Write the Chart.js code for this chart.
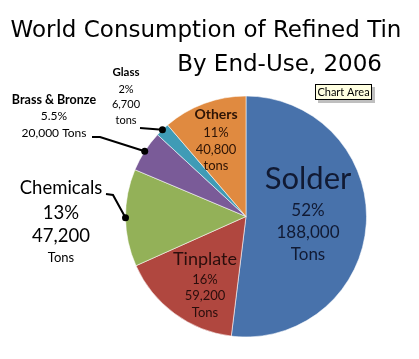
<!DOCTYPE html>
<html><head><meta charset="utf-8">
<script src="https://cdn.jsdelivr.net/npm/chart.js@4"></script>
<style>html,body{margin:0;padding:0;background:#fff;}#wrap{width:419px;height:359px;position:relative;}</style>
</head><body><div id="wrap"><canvas id="c" width="419" height="359"></canvas></div>
<script>
const categories = ["Solder", "Tinplate", "Chemicals", "Brass & Bronze", "Glass", "Others"];
const tons = [188000, 59200, 47200, 20000, 6700, 40800];
const pctLabels = ["52%", "16%", "13%", "5.5%", "2%", "11%"];
const tonLabels = ["188,000", "59,200", "47,200", "20,000 Tons", "6,700", "40,800"];
const unitLabels = ["Tons", "Tons", "Tons", "", "tons", "tons"];
const colors = ["#4872ab", "#b0473f", "#93b158", "#7a5b98", "#3f9bb6", "#e08a40"];
const titleLines = ["World Consumption of Refined Tin", "By End-Use, 2006"];

const F = "Lato, 'Open Sans', sans-serif";

const labelPlugin = {
  id: 'labels',
  afterDraw(chart) {
    const ctx = chart.ctx;
    const arcs = chart.getDatasetMeta(0).data;
    const cx = arcs[0].x, cy = arcs[0].y, R = arcs[0].outerRadius;
    ctx.save();
    // Title
    ctx.fillStyle = '#000';
    ctx.textBaseline = 'middle';
    ctx.textAlign = 'center';
    ctx.font = "23px 'DejaVu Sans'";
    ctx.fillText(titleLines[0], 206, 31);
    ctx.textAlign = 'right';
    ctx.fillText(titleLines[1], 382, 65);

    function txt(s, x, y, size, bold, color) {
      ctx.font = (bold ? 'bold ' : '') + size + 'px ' + F;
      ctx.fillStyle = color || '#000';
      ctx.textAlign = 'center';
      ctx.fillText(s, x, y);
    }
    function dotAt(i) {
      const a = arcs[i];
      const m = (a.startAngle + a.endAngle) / 2;
      return [cx + Math.cos(m) * R, cy + Math.sin(m) * R];
    }
    // Solder
    const sc = '#111a33';
    txt(categories[0], cx + 62, cy - 38, 31, false, sc);
    txt(pctLabels[0], cx + 62, cy - 6, 17, false, sc);
    txt(tonLabels[0], cx + 62, cy + 16, 17, false, sc);
    txt(unitLabels[0], cx + 62, cy + 38, 17, false, sc);
    // Tinplate
    const tc = '#2a0e0c';
    txt(categories[1], cx - 41, cy + 43, 18, false, tc);
    txt(pctLabels[1], cx - 41, cy + 63, 13, false, tc);
    txt(tonLabels[1], cx - 41, cy + 79, 13, false, tc);
    txt(unitLabels[1], cx - 41, cy + 96, 13, false, tc);
    // Others
    const oc = '#2e1405';
    txt(categories[5], cx - 30, cy - 102, 14, true, oc);
    txt(pctLabels[5], cx - 30, cy - 84, 13, false, oc);
    txt(tonLabels[5], cx - 30, cy - 67, 13, false, oc);
    txt(unitLabels[5], cx - 30, cy - 51, 13, false, oc);
    // Chemicals
    txt(categories[2], 61, 188, 18.5, false);
    txt(pctLabels[2], 61, 213, 18.5, false);
    txt(tonLabels[2], 61, 236, 18.5, false);
    txt(unitLabels[2], 61, 258, 13, false);
    // Brass & Bronze
    txt(categories[3], 54, 100, 12.5, true);
    txt(pctLabels[3], 54, 116, 12, false);
    txt(tonLabels[3], 54, 133, 12, false);
    // Glass
    txt(categories[4], 126, 72, 11.5, true);
    txt(pctLabels[4], 126, 89, 11, false);
    txt(tonLabels[4], 126, 104, 11, false);
    txt(unitLabels[4], 126, 120, 11, false);

    // leader lines
    ctx.strokeStyle = '#000';
    ctx.fillStyle = '#000';
    ctx.lineWidth = 2;
    function leader(pts, i) {
      const d = dotAt(i);
      ctx.beginPath();
      ctx.moveTo(pts[0][0], pts[0][1]);
      for (let k = 1; k < pts.length; k++) ctx.lineTo(pts[k][0], pts[k][1]);
      ctx.lineTo(d[0], d[1]);
      ctx.stroke();
      ctx.beginPath();
      ctx.arc(d[0], d[1], 3.5, 0, Math.PI * 2);
      ctx.fill();
    }
    leader([[106, 194], [113, 195]], 2);
    leader([[92, 137], [100, 137]], 3);
    leader([[140, 128]], 4);

    // "Chart Area" tooltip
    ctx.fillStyle = 'rgba(0,0,0,0.25)';
    ctx.fillRect(318, 87, 57, 16);
    ctx.fillStyle = '#ffffe1';
    ctx.fillRect(315, 84, 57, 16);
    ctx.strokeStyle = '#000';
    ctx.lineWidth = 1;
    ctx.strokeRect(315.5, 84.5, 56, 15);
    ctx.fillStyle = '#000';
    ctx.font = "11px " + F;
    ctx.textAlign = 'center';
    ctx.fillText("Chart Area", 343.5, 92.5);
    ctx.restore();
  }
};

new Chart(document.getElementById('c'), {
  type: 'pie',
  data: {
    labels: categories,
    datasets: [{
      data: tons,
      backgroundColor: colors,
      borderColor: 'rgba(255,255,255,0.55)',
      borderWidth: 1
    }]
  },
  options: {
    responsive: false,
    animation: false,
    layout: { padding: { left: 125, right: 52, top: 95, bottom: 21 } },
    plugins: { legend: { display: false }, tooltip: { enabled: false }, title: { display: false } }
  },
  plugins: [labelPlugin]
});
</script>
</body></html>
